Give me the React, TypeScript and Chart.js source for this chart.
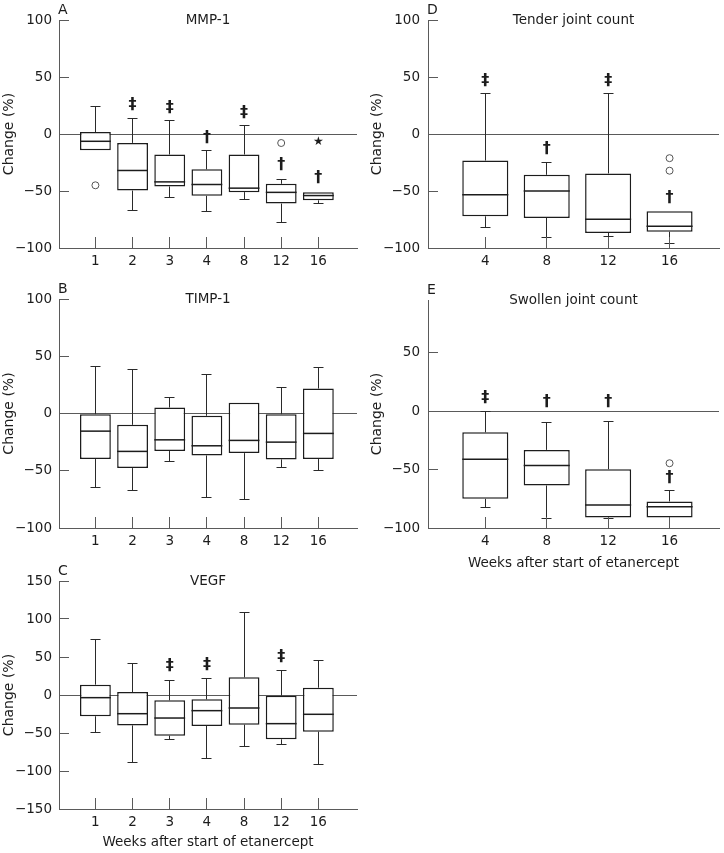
import React, { useEffect, useRef } from "react";
import { Chart, registerables } from "chart.js";

Chart.register(...registerables);

const FONT = '"DejaVu Sans", sans-serif';

// ---- categories / tick labels ----
const weeksABC = ["1", "2", "3", "4", "8", "12", "16"];
const weeksDE = ["4", "8", "12", "16"];
const ticks100 = [-100, -50, 0, 50, 100];
const ticks150 = [-150, -100, -50, 0, 50, 100, 150];
const ticksE = [-100, -50, 0, 50];

// ---- A: MMP-1 ----
const mmpMin = [-14.2, -67.2, -56, -68.4, -57.7, -77.6, -61.3];
const mmpQ1 = [-14.2, -49.6, -46, -54.2, -51, -61, -58.2];
const mmpMed = [-6.4, -32, -42, -44.3, -47.5, -51.2, -54];
const mmpQ3 = [1.7, -7.8, -18, -31, -18, -43.7, -51];
const mmpMax = [24.3, 13.6, 11.6, -14.8, 7.2, -39.6, -51];
const mmpOutliers = [{ x: 1, y: -45 }, { x: 6, y: -7.9 }];
const mmpMarks = [
  { x: 2, y: 25.8, s: "‡" }, { x: 3, y: 23.2, s: "‡" }, { x: 4, y: -3.5, s: "†" },
  { x: 5, y: 18.8, s: "‡" }, { x: 6, y: -27, s: "†" }, { x: 7, y: -38.7, s: "†" },
  { x: 7, y: -7, s: "★" },
];

// ---- B: TIMP-1 ----
const timpMin = [-64.5, -67.4, -41.6, -73.5, -74.7, -47.1, -50];
const timpQ1 = [-39.8, -47.7, -32.8, -36.6, -34.6, -40.1, -39.8];
const timpMed = [-15.4, -33.1, -23, -28.2, -23.5, -25, -17.4];
const timpQ3 = [-0.6, -9.9, 5.2, -2, 9.3, -0.6, 21.8];
const timpMax = [41.3, 38.2, 14.2, 33.7, 9.3, 22.7, 39.8];

// ---- C: VEGF ----
const vegfMin = [-49.6, -88.6, -59.2, -83.8, -68, -65, -91.7];
const vegfQ1 = [-28, -40, -53.5, -40.8, -39, -58.3, -48.2];
const vegfMed = [-3.5, -24.6, -30.3, -20.6, -17.1, -37.7, -25.4];
const vegfQ3 = [13.6, 3.9, -7, -5.7, 23.2, -0.9, 9.6];
const vegfMax = [73.2, 41.7, 19.7, 21.5, 108.3, 32, 45.6];
const vegfMarks = [
  { x: 3, y: 39, s: "‡" }, { x: 4, y: 40, s: "‡" }, { x: 6, y: 49.6, s: "‡" },
];

// ---- D: Tender joint count ----
const tenderMin = [-82, -91, -89.5, -95.9];
const tenderQ1 = [-72.2, -73.6, -86.8, -85.7];
const tenderMed = [-53.3, -50, -74.8, -80.9];
const tenderQ3 = [-23.3, -35.8, -34.6, -67.8];
const tenderMax = [35.2, -24.7, 35.2, -67.8];
const tenderOutliers = [{ x: 4, y: -21.2 }, { x: 4, y: -32.2 }];
const tenderMarks = [
  { x: 1, y: 46.4, s: "‡" }, { x: 2, y: -13, s: "†" }, { x: 3, y: 46.4, s: "‡" }, { x: 4, y: -56, s: "†" },
];

// ---- E: Swollen joint count ----
const swollenMin = [-82.7, -92, -91.8, -91];
const swollenQ1 = [-75, -63.6, -91, -91];
const swollenMed = [-41.2, -46.6, -80.4, -81.8];
const swollenQ3 = [-18.2, -33.2, -49.7, -77.3];
const swollenMax = [0, -9.4, -8.5, -68.2];
const swollenOutliers = [{ x: 4, y: -44.6 }];
const swollenMarks = [
  { x: 1, y: 11.7, s: "‡" }, { x: 2, y: 7.7, s: "†" }, { x: 3, y: 7.7, s: "†" }, { x: 4, y: -57.4, s: "†" },
];

type Panel = {
  letter: string; title: string;
  left: number; top: number; width: number; height: number;
  yAxisW: number; padTop: number; padRight: number; xAxisH: number;
  labels: string[]; xMin: number; xMax: number;
  yMin: number; yMax: number; yTicks: number[];
  min: number[]; q1: number[]; med: number[]; q3: number[]; max: number[];
  outliers: { x: number; y: number }[]; marks: { x: number; y: number; s: string }[];
  barPct: number; yTickPad: number; yTitlePad: number; xTitle: boolean; xTitlePad: number;
};

const panels: Panel[] = [
  {
    letter: "A", title: "MMP-1", left: 0, top: 0, width: 362, height: 280,
    yAxisW: 59, padTop: 20, padRight: 5, xAxisH: 32, labels: weeksABC, xMin: 0.02, xMax: 8.04,
    yMin: -100, yMax: 100, yTicks: ticks100,
    min: mmpMin, q1: mmpQ1, med: mmpMed, q3: mmpQ3, max: mmpMax,
    outliers: mmpOutliers, marks: mmpMarks, barPct: 0.83, yTickPad: 7, yTitlePad: 1, xTitle: false, xTitlePad: 0,
  },
  {
    letter: "B", title: "TIMP-1", left: 0, top: 280, width: 362, height: 282,
    yAxisW: 59, padTop: 19, padRight: 5, xAxisH: 34, labels: weeksABC, xMin: 0.02, xMax: 8.04,
    yMin: -100, yMax: 100, yTicks: ticks100,
    min: timpMin, q1: timpQ1, med: timpMed, q3: timpQ3, max: timpMax,
    outliers: [], marks: [], barPct: 0.83, yTickPad: 7, yTitlePad: 1, xTitle: false, xTitlePad: 0,
  },
  {
    letter: "C", title: "VEGF", left: 0, top: 562, width: 362, height: 291,
    yAxisW: 59, padTop: 19, padRight: 5, xAxisH: 44, labels: weeksABC, xMin: 0.02, xMax: 8.04,
    yMin: -150, yMax: 150, yTicks: ticks150,
    min: vegfMin, q1: vegfQ1, med: vegfMed, q3: vegfQ3, max: vegfMax,
    outliers: [], marks: vegfMarks, barPct: 0.83, yTickPad: 7, yTitlePad: 1, xTitle: true, xTitlePad: 2,
  },
  {
    letter: "D", title: "Tender joint count", left: 362, top: 0, width: 362, height: 280,
    yAxisW: 66, padTop: 20, padRight: 0, xAxisH: 32, labels: weeksDE, xMin: 0.067, xMax: 4.805,
    yMin: -100, yMax: 100, yTicks: ticks100,
    min: tenderMin, q1: tenderQ1, med: tenderMed, q3: tenderQ3, max: tenderMax,
    outliers: tenderOutliers, marks: tenderMarks, barPct: 0.75, yTickPad: 8, yTitlePad: 7.4, xTitle: false, xTitlePad: 0,
  },
  {
    letter: "E", title: "Swollen joint count", left: 362, top: 280, width: 362, height: 295,
    yAxisW: 66, padTop: 20, padRight: 0, xAxisH: 47, labels: weeksDE, xMin: 0.067, xMax: 4.805,
    yMin: -100, yMax: 95, yTicks: ticksE,
    min: swollenMin, q1: swollenQ1, med: swollenMed, q3: swollenQ3, max: swollenMax,
    outliers: swollenOutliers, marks: swollenMarks, barPct: 0.75, yTickPad: 8, yTitlePad: 7.4, xTitle: true, xTitlePad: 3.3,
  },
];

const INK = "#1c1c1c";
const AXIS = "#5a5a5a";

function fmt(v: number) {
  return v < 0 ? "\u2212" + Math.abs(v) : String(v);
}

// same pixel alignment Chart.js uses for 1px grid lines
function crisp(v: number) {
  return Math.round(v - 0.5) + 0.5;
}

function boxPlugin(p: Panel) {
  return {
    id: "boxExtras" + p.letter,
    afterDatasetsDraw(chart: any) {
      const ctx = chart.ctx;
      const xs = chart.scales.x;
      const ys = chart.scales.y;
      const area = chart.chartArea;
      const meta = chart.getDatasetMeta(0);
      ctx.save();
      // whiskers + caps
      ctx.strokeStyle = "#2a2a2a";
      ctx.lineWidth = 1;
      p.q1.forEach((q1, i) => {
        const x = crisp(xs.getPixelForValue(i + 1));
        const segs = [
          [p.q3[i], p.max[i]],
          [q1, p.min[i]],
        ];
        segs.forEach(([from, to]) => {
          if (Math.abs(to - from) < 0.01) return;
          const y0 = ys.getPixelForValue(from);
          const y1 = crisp(ys.getPixelForValue(to));
          ctx.beginPath();
          ctx.moveTo(x, y0);
          ctx.lineTo(x, y1);
          ctx.moveTo(x - 5, y1);
          ctx.lineTo(x + 5, y1);
          ctx.stroke();
        });
      });
      // medians
      ctx.strokeStyle = INK;
      ctx.lineWidth = 1.5;
      p.med.forEach((m, i) => {
        const el = meta.data[i];
        const y = ys.getPixelForValue(m);
        ctx.beginPath();
        ctx.moveTo(el.x - el.width / 2, y);
        ctx.lineTo(el.x + el.width / 2, y);
        ctx.stroke();
      });
      // inward ticks
      ctx.strokeStyle = AXIS;
      ctx.lineWidth = 1;
      p.yTicks.forEach((v) => {
        const y = crisp(ys.getPixelForValue(v));
        ctx.beginPath();
        ctx.moveTo(area.left, y);
        ctx.lineTo(area.left + 10, y);
        ctx.stroke();
      });
      p.labels.forEach((_, i) => {
        const x = crisp(xs.getPixelForValue(i + 1));
        ctx.beginPath();
        ctx.moveTo(x, area.bottom);
        ctx.lineTo(x, area.bottom - 11);
        ctx.stroke();
      });
      // significance marks
      ctx.fillStyle = INK;
      ctx.textAlign = "center";
      ctx.textBaseline = "middle";
      p.marks.forEach((m) => {
        ctx.font = m.s === "★" ? `12px ${FONT}` : `bold 16px ${FONT}`;
        ctx.fillText(m.s, xs.getPixelForValue(m.x), ys.getPixelForValue(m.y));
      });
      // panel title + letter
      ctx.font = `13.5px ${FONT}`;
      ctx.fillText(p.title, (area.left + area.right) / 2, area.top);
      ctx.font = `14px ${FONT}`;
      ctx.textAlign = "left";
      ctx.textBaseline = "alphabetic";
      ctx.fillText(p.letter, area.left - 1, area.top - 6.5);
      ctx.restore();
    },
  };
}

function makeConfig(p: Panel): any {
  const positions = p.labels.map((_, i) => i + 1);
  return {
    type: "bar",
    data: {
      datasets: [
        {
          type: "bar",
          data: p.q1.map((q, i) => ({ x: i + 1, y: [q, p.q3[i]] })),
          backgroundColor: "#ffffff",
          borderColor: INK,
          borderWidth: 1.5,
          borderSkipped: false,
          barPercentage: p.barPct,
          categoryPercentage: 1,
        },
        {
          type: "scatter",
          data: p.outliers,
          pointStyle: "circle",
          pointRadius: 3.5,
          pointBackgroundColor: "#ffffff",
          pointBorderColor: "#555555",
          pointBorderWidth: 1,
        },
      ],
    },
    options: {
      animation: false,
      responsive: false,
      devicePixelRatio: 1,
      events: [],
      layout: { padding: { top: p.padTop, right: p.padRight, left: 0, bottom: 0 } },
      plugins: { legend: { display: false }, tooltip: { enabled: false }, title: { display: false } },
      scales: {
        x: {
          type: "linear",
          min: p.xMin,
          max: p.xMax,
          offset: false,
          grid: { display: false, drawTicks: false, offset: false },
          border: { display: true, color: AXIS, width: 1 },
          ticks: {
            autoSkip: false,
            maxRotation: 0,
            padding: 5,
            color: INK,
            font: { family: FONT, size: 13.5 },
            callback: (v: number) => p.labels[Math.round(v) - 1] ?? "",
          },
          afterBuildTicks: (s: any) => {
            s.ticks = positions.map((v) => ({ value: v }));
          },
          afterFit: (s: any) => {
            s.height = p.xAxisH;
            s.paddingLeft = 0;
            s.paddingRight = 0;
          },
          title: {
            display: p.xTitle,
            text: "Weeks after start of etanercept",
            color: INK,
            font: { family: FONT, size: 13.5 },
            padding: { top: 0, bottom: p.xTitlePad },
          },
        },
        y: {
          type: "linear",
          min: p.yMin,
          max: p.yMax,
          grid: {
            drawTicks: false,
            lineWidth: 1,
            color: (c: any) => (c.tick && c.tick.value === 0 ? AXIS : "rgba(0,0,0,0)"),
          },
          border: { display: true, color: AXIS, width: 1 },
          ticks: {
            padding: p.yTickPad,
            color: INK,
            font: { family: FONT, size: 13.5 },
            callback: (v: number) => fmt(v),
          },
          afterBuildTicks: (s: any) => {
            s.ticks = p.yTicks.map((v) => ({ value: v }));
          },
          afterFit: (s: any) => {
            s.width = p.yAxisW;
            s.paddingTop = 0;
            s.paddingBottom = 0;
          },
          title: {
            display: true,
            text: "Change (%)",
            color: INK,
            font: { family: FONT, size: 14 },
            padding: { top: p.yTitlePad, bottom: 0 },
          },
        },
      },
    },
    plugins: [boxPlugin(p)],
  };
}

function BoxPanel({ p }: { p: Panel }) {
  const ref = useRef<HTMLCanvasElement | null>(null);
  useEffect(() => {
    if (!ref.current) return;
    const chart = new Chart(ref.current, makeConfig(p));
    return () => chart.destroy();
  }, [p]);
  return (
    <canvas
      ref={ref}
      width={p.width}
      height={p.height}
      style={{ position: "absolute", left: p.left, top: p.top, width: p.width, height: p.height }}
    />
  );
}

export default function App() {
  return (
    <div style={{ position: "absolute", left: 0, top: 0, width: 724, height: 853, background: "#ffffff" }}>
      {panels.map((p) => (
        <BoxPanel key={p.letter} p={p} />
      ))}
    </div>
  );
}
